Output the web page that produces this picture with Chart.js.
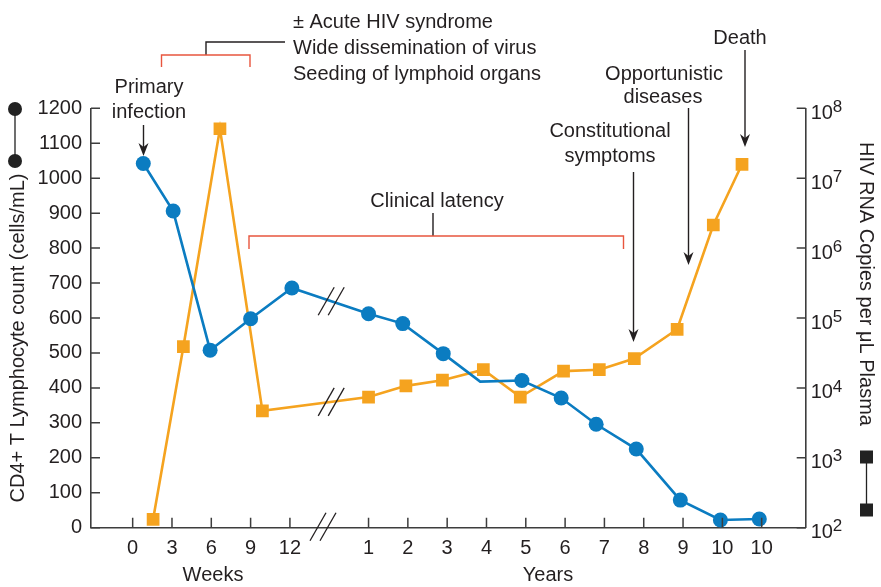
<!DOCTYPE html>
<html>
<head>
<meta charset="utf-8">
<script src="https://cdn.jsdelivr.net/npm/chart.js@4.4.1/dist/chart.umd.min.js"></script>
<style>
  html, body { margin: 0; padding: 0; background: #fff; }
  #wrap { width: 881px; height: 587px; }
</style>
</head>
<body>
<div id="wrap"><canvas id="hivChart" width="881" height="587"></canvas></div>
<script>
// x axis: weeks 0-12, a break, then years 1-10
const xTickPos = [0, 1, 2, 3, 4, 6, 7, 8, 9, 10, 11, 12, 13, 14, 15, 16];
const xTickLabels = ['0', '3', '6', '9', '12', '1', '2', '3', '4', '5', '6', '7', '8', '9', '10', '10'];

// CD4+ T cell count (left axis)
const cd4X = [0.27, 1.03, 1.97, 3.0, 4.05, 6.0, 6.87, 7.9, 8.84, 9.9, 10.9, 11.79, 12.81, 13.93, 14.95, 15.94];
const cd4Count = [1042, 906, 508, 598, 686, 612, 584, 498, 418, 421, 371, 296, 225, 79, 22, 25];
const cd4Marker = [1, 1, 1, 1, 1, 1, 1, 1, 0, 1, 1, 1, 1, 1, 1, 1]; // 0 = bend with no dot

// HIV RNA copies per uL plasma (right axis, log)
const rnaX = [0.52, 1.29, 2.22, 3.3, 6.0, 6.95, 7.88, 8.92, 9.86, 10.96, 11.87, 12.76, 13.85, 14.77, 15.5];
const rnaCopies = [132, 38900, 51000000, 4700, 7400, 10700, 12900, 18200, 7400, 17400, 18200, 26300, 69000, 2140000, 15800000];

const cd4Ticks = [0, 100, 200, 300, 400, 500, 600, 700, 800, 900, 1000, 1100, 1200];
const rnaDecades = [2, 3, 4, 5, 6, 7, 8];

const ink = '#231f20';
const axisInk = '#3d3d3d';
const red = '#e8553e';
const blue = '#0b7cc1';
const orange = '#f5a31f';
const FONT = '"Liberation Sans", Arial, sans-serif';

function arrowDown(ctx, x, y1, y2) {
    ctx.beginPath();
    ctx.moveTo(x, y1);
    ctx.lineTo(x, y2 - 8);
    ctx.stroke();
    ctx.beginPath();
    ctx.moveTo(x, y2);
    ctx.lineTo(x - 5, y2 - 13);
    ctx.lineTo(x, y2 - 9);
    ctx.lineTo(x + 5, y2 - 13);
    ctx.closePath();
    ctx.fill();
}

// the "//" break symbol
function slashes(ctx, cx, cy) {
    [-5, 5].forEach(dx => {
        ctx.beginPath();
        ctx.moveTo(cx + dx - 8, cy + 14);
        ctx.lineTo(cx + dx + 8, cy - 14);
        ctx.stroke();
    });
}

function lineYAt(meta, i0, i1, px) {
    let a = meta.data[i0], b = meta.data[i1];
    let t = (px - a.x) / (b.x - a.x);
    return a.y + t * (b.y - a.y);
}

const decorations = {
    id: 'decorations',
    afterDraw(chart) {
        const ctx = chart.ctx;
        const area = chart.chartArea;
        const xs = chart.scales.x, ys = chart.scales.y, ys2 = chart.scales.y2;
        ctx.save();

        // tick marks pointing into the plot
        ctx.strokeStyle = axisInk;
        ctx.lineWidth = 1.5;
        ctx.beginPath();
        cd4Ticks.forEach(v => {
            let y = ys.getPixelForValue(v);
            ctx.moveTo(area.left, y);
            ctx.lineTo(area.left + 9, y);
        });
        rnaDecades.forEach(k => {
            let y = ys2.getPixelForValue(Math.pow(10, k));
            ctx.moveTo(area.right, y);
            ctx.lineTo(area.right - 9, y);
        });
        xTickPos.forEach(v => {
            let x = xs.getPixelForValue(v);
            ctx.moveTo(x, area.bottom);
            ctx.lineTo(x, area.bottom - 10);
        });
        ctx.stroke();

        // right axis labels 10^n
        ctx.fillStyle = ink;
        ctx.textAlign = 'left';
        ctx.textBaseline = 'middle';
        rnaDecades.forEach(k => {
            let y = ys2.getPixelForValue(Math.pow(10, k));
            ctx.font = '20px ' + FONT;
            ctx.fillText('10', area.right + 5, y + 5);
            ctx.font = '17px ' + FONT;
            ctx.fillText(String(k), area.right + 27, y - 1);
        });

        // axis titles
        ctx.font = '20px ' + FONT;
        ctx.textAlign = 'center';
        ctx.save();
        ctx.translate(18, 338);
        ctx.rotate(-Math.PI / 2);
        ctx.fillText('CD4+ T Lymphocyte count (cells/mL)', 0, 0);
        ctx.restore();
        ctx.save();
        ctx.translate(866, 284);
        ctx.rotate(Math.PI / 2);
        ctx.fillText('HIV RNA Copies per \u03bcL Plasma', 0, 0);
        ctx.restore();

        ctx.textBaseline = 'alphabetic';
        ctx.fillText('Weeks', 213, 581);
        ctx.fillText('Years', 548, 581);

        // breaks on the axis and both lines
        ctx.strokeStyle = ink;
        ctx.lineWidth = 1.3;
        let bx = xs.getPixelForValue(5.05);
        slashes(ctx, 323, area.bottom - 1);
        slashes(ctx, bx, lineYAt(chart.getDatasetMeta(0), 4, 5, bx));
        slashes(ctx, bx, lineYAt(chart.getDatasetMeta(1), 3, 4, bx));

        // annotations
        ctx.fillStyle = ink;
        ctx.textAlign = 'left';
        ctx.fillText('\u00b1 Acute HIV syndrome', 293, 27.5);
        ctx.fillText('Wide dissemination of virus', 293, 53.5);
        ctx.fillText('Seeding of lymphoid organs', 293, 79.5);
        ctx.textAlign = 'center';
        ctx.fillText('Primary', 149, 93);
        ctx.fillText('infection', 149, 118);
        ctx.fillText('Clinical latency', 437, 207);
        ctx.fillText('Constitutional', 610, 137);
        ctx.fillText('symptoms', 610, 161.5);
        ctx.fillText('Opportunistic', 664, 80);
        ctx.fillText('diseases', 663, 102.5);
        ctx.fillText('Death', 740, 44);

        ctx.strokeStyle = ink;
        ctx.fillStyle = ink;
        ctx.lineWidth = 1.4;
        arrowDown(ctx, 143.5, 125, 156);
        arrowDown(ctx, 633.5, 172, 342);
        arrowDown(ctx, 688.5, 108, 265);
        arrowDown(ctx, 745, 50, 147);

        // black leaders to the brackets
        ctx.beginPath();
        ctx.moveTo(285, 42);
        ctx.lineTo(206, 42);
        ctx.lineTo(206, 55);
        ctx.moveTo(433, 213);
        ctx.lineTo(433, 236);
        ctx.stroke();

        // red brackets
        ctx.strokeStyle = red;
        ctx.lineWidth = 1.4;
        ctx.beginPath();
        ctx.moveTo(161.5, 67);
        ctx.lineTo(161.5, 55);
        ctx.lineTo(250, 55);
        ctx.lineTo(250, 67);
        ctx.moveTo(249, 249);
        ctx.lineTo(249, 236);
        ctx.lineTo(623.5, 236);
        ctx.lineTo(623.5, 249);
        ctx.stroke();

        // series keys beside the axes
        ctx.strokeStyle = '#222';
        ctx.fillStyle = '#222';
        ctx.lineWidth = 1.3;
        ctx.beginPath();
        ctx.moveTo(15, 109);
        ctx.lineTo(15, 161);
        ctx.moveTo(866.5, 457);
        ctx.lineTo(866.5, 510);
        ctx.stroke();
        [109, 161].forEach(y => {
            ctx.beginPath();
            ctx.arc(15, y, 7, 0, Math.PI * 2);
            ctx.fill();
        });
        [457, 510].forEach(y => {
            ctx.fillRect(860, y - 6.5, 13, 13);
        });

        ctx.restore();
    }
};

new Chart('hivChart', {
    type: 'line',
    data: {
        datasets: [
            {
                label: 'CD4+ T lymphocyte count',
                data: cd4X.map((x, i) => ({ x: x, y: cd4Count[i] })),
                yAxisID: 'y',
                borderColor: blue,
                backgroundColor: blue,
                borderWidth: 2.6,
                pointStyle: 'circle',
                pointRadius: cd4Marker.map(m => m ? 7.5 : 0),
                pointBorderWidth: 0,
                tension: 0
            },
            {
                label: 'HIV RNA copies',
                data: rnaX.map((x, i) => ({ x: x, y: rnaCopies[i] })),
                yAxisID: 'y2',
                borderColor: orange,
                backgroundColor: orange,
                borderWidth: 2.6,
                pointStyle: 'rect',
                pointRadius: 9,
                pointBorderWidth: 0,
                tension: 0
            }
        ]
    },
    options: {
        responsive: false,
        animation: false,
        devicePixelRatio: 1,
        layout: { padding: { top: 108.3, left: 0, right: 0, bottom: 0 } },
        scales: {
            x: {
                type: 'linear',
                min: -1.06,
                max: 17.12,
                afterBuildTicks: s => { s.ticks = xTickPos.map(v => ({ value: v })); },
                afterFit: s => { s.height = 59.3; },
                grid: { display: false, drawTicks: false },
                border: { color: axisInk, width: 1.6 },
                ticks: {
                    autoSkip: false,
                    maxRotation: 0,
                    padding: 9,
                    color: ink,
                    font: { family: FONT, size: 20 },
                    callback: v => {
                        let i = xTickPos.indexOf(v);
                        return i >= 0 ? xTickLabels[i] : '';
                    }
                }
            },
            y: {
                position: 'left',
                min: 0,
                max: 1200,
                afterBuildTicks: s => { s.ticks = cd4Ticks.map(v => ({ value: v })); },
                afterFit: s => { s.width = 91; },
                grid: { display: false, drawTicks: false },
                border: { color: axisInk, width: 1.6 },
                ticks: {
                    padding: 9,
                    color: ink,
                    font: { family: FONT, size: 20 },
                    callback: v => String(v)
                }
            },
            y2: {
                type: 'logarithmic',
                position: 'right',
                min: 100,
                max: 100000000,
                afterFit: s => { s.width = 75.3; },
                grid: { display: false, drawTicks: false },
                border: { color: axisInk, width: 1.6 },
                ticks: { display: false }
            }
        },
        plugins: {
            legend: { display: false },
            tooltip: { enabled: false }
        }
    },
    plugins: [decorations]
});
</script>
</body>
</html>
